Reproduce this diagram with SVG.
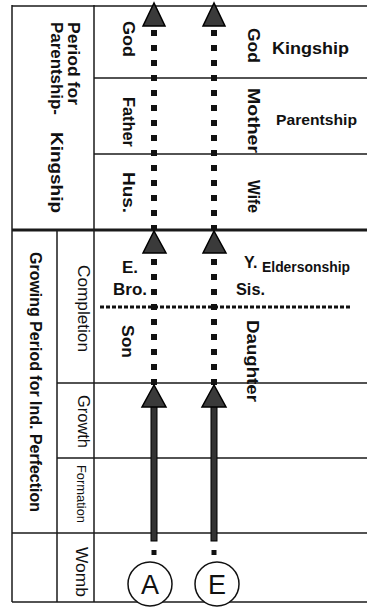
<svg xmlns="http://www.w3.org/2000/svg" width="367" height="609" viewBox="0 0 367 609">
<style>
.g{stroke:#1a1a1a;stroke-width:1.5;fill:none}
.t{font-family:"Liberation Sans",Arial,sans-serif;fill:#111}
.b{font-weight:bold}
.dash{stroke:#111;stroke-width:6;stroke-dasharray:6 9;fill:none}
.head{fill:#3a3a3a;stroke:#000;stroke-width:1.5;stroke-linejoin:miter}
.shaft{fill:#333;stroke:#000;stroke-width:1}
</style>
<rect width="367" height="609" fill="#fff"/>
<g id="grid">
<line class="g" x1="12" y1="6" x2="367" y2="6"/>
<line class="g" x1="12" y1="5" x2="12" y2="602"/>
<line class="g" x1="94" y1="5" x2="94" y2="602"/>
<line class="g" x1="57" y1="230" x2="57" y2="602"/>
<line class="g" x1="94" y1="78" x2="367" y2="78"/>
<line class="g" x1="94" y1="154" x2="367" y2="154"/>
<line class="g" x1="12" y1="230" x2="367" y2="230" style="stroke-width:3"/>
<line class="g" x1="57" y1="383" x2="367" y2="383"/>
<line class="g" x1="57" y1="458" x2="367" y2="458"/>
<line class="g" x1="12" y1="533" x2="367" y2="533"/>
<line class="g" x1="12" y1="602" x2="367" y2="602"/>
<line x1="100" y1="307" x2="350" y2="307" style="stroke:#111;stroke-width:3;stroke-dasharray:4 2"/>
</g>
<g id="period-labels" class="t b" font-size="17">
<text transform="translate(68,22) rotate(90)" textLength="83" lengthAdjust="spacingAndGlyphs">Period for</text>
<text transform="translate(51,22) rotate(90)" textLength="93" lengthAdjust="spacingAndGlyphs">Parentship-</text>
<text transform="translate(51,132) rotate(90)" textLength="81" lengthAdjust="spacingAndGlyphs">Kingship</text>
<text transform="translate(30,252) rotate(90)" font-size="16" textLength="260" lengthAdjust="spacingAndGlyphs">Growing Period for Ind. Perfection</text>
</g>
<g id="stage-labels" class="t" font-size="16">
<text transform="translate(78,265) rotate(90)" textLength="87" lengthAdjust="spacingAndGlyphs">Completion</text>
<text transform="translate(78,395) rotate(90)" textLength="53" lengthAdjust="spacingAndGlyphs">Growth</text>
<text transform="translate(77,465) rotate(90)" font-size="12" textLength="58" lengthAdjust="spacingAndGlyphs">Formation</text>
<text transform="translate(76,547) rotate(90)" font-size="17" textLength="50" lengthAdjust="spacingAndGlyphs">Womb</text>
</g>
<g id="male-labels" class="t b" font-size="17">
<text transform="translate(123,21) rotate(90)" textLength="36" lengthAdjust="spacingAndGlyphs">God</text>
<text transform="translate(123,97) rotate(90)" textLength="50" lengthAdjust="spacingAndGlyphs">Father</text>
<text transform="translate(123,172) rotate(90)" textLength="41" lengthAdjust="spacingAndGlyphs">Hus.</text>
<text transform="translate(122,325) rotate(90)" textLength="33" lengthAdjust="spacingAndGlyphs">Son</text>
<text x="122" y="273">E.</text>
<text x="113" y="295" textLength="34" lengthAdjust="spacingAndGlyphs">Bro.</text>
</g>
<g id="female-labels" class="t b" font-size="17">
<text transform="translate(248,28) rotate(90)" textLength="35" lengthAdjust="spacingAndGlyphs">God</text>
<text transform="translate(248,88) rotate(90)" textLength="65" lengthAdjust="spacingAndGlyphs">Mother</text>
<text transform="translate(248,180) rotate(90)" textLength="33" lengthAdjust="spacingAndGlyphs">Wife</text>
<text transform="translate(247,320) rotate(90)" textLength="82" lengthAdjust="spacingAndGlyphs">Daughter</text>
<text x="244" y="268" font-size="16">Y.</text>
<text x="236" y="295" textLength="29" lengthAdjust="spacingAndGlyphs">Sis.</text>
</g>
<g id="ship-labels" class="t b">
<text x="272" y="54" font-size="17" textLength="77" lengthAdjust="spacingAndGlyphs">Kingship</text>
<text x="276" y="125" font-size="15" textLength="81" lengthAdjust="spacingAndGlyphs">Parentship</text>
<text x="262" y="272" font-size="14" textLength="88" lengthAdjust="spacingAndGlyphs">Eldersonship</text>
</g>
<g id="connectors">
<line class="dash" x1="154" y1="30" x2="154" y2="230"/>
<line class="dash" x1="214" y1="30" x2="214" y2="230"/>
<polygon class="head" points="154,3 143,26 165,26"/>
<polygon class="head" points="214,3 203,26 225,26"/>
<line class="dash" x1="154" y1="259" x2="154" y2="386"/>
<line class="dash" x1="214" y1="259" x2="214" y2="386"/>
<polygon class="head" points="154,231 143,253 166,253"/>
<polygon class="head" points="214,231 203,253 226,253"/>
<rect class="shaft" x="151" y="405" width="6" height="136"/>
<rect class="shaft" x="211" y="405" width="6" height="136"/>
<polygon class="head" points="154,385 142,407 166,407"/>
<polygon class="head" points="214,385 202,407 226,407"/>
<rect x="151.5" y="550" width="5" height="5" fill="#111"/>
<rect x="211.5" y="550" width="5" height="5" fill="#111"/>
</g>
<g id="node-A">
<circle cx="150" cy="584" r="22" fill="#fff" stroke="#111" stroke-width="1.5"/>
<text class="t" x="150" y="594" font-size="27" text-anchor="middle">A</text>
</g>
<g id="node-E">
<circle cx="217" cy="584" r="22" fill="#fff" stroke="#111" stroke-width="1.5"/>
<text class="t" x="217" y="594" font-size="27" text-anchor="middle">E</text>
</g>
</svg>
